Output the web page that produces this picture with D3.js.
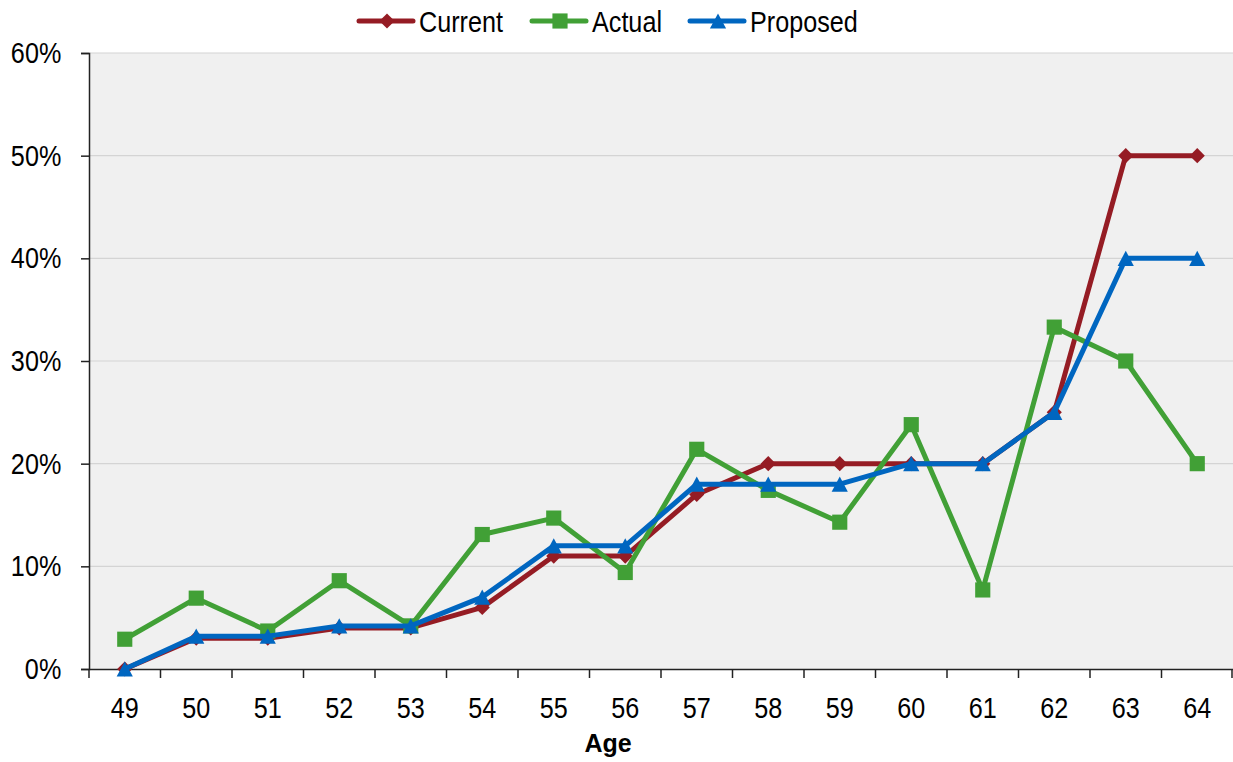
<!DOCTYPE html>
<html><head><meta charset="utf-8">
<script src="https://cdn.jsdelivr.net/npm/d3@7"></script>
<style>
body{margin:0;background:#fff;}
text{font-family:"Liberation Sans Narrow","Arial Narrow","Liberation Sans",Arial,sans-serif;fill:#000;}
</style></head>
<body><svg id="c" width="1233" height="762"></svg>
<script>
const ages = ["49","50","51","52","53","54","55","56","57","58","59","60","61","62","63","64"];
const current = [0,3,3,4,4,6,11,11,17,20,20,20,20,25,50,50];
const actual = [2.9,6.9,3.7,8.6,4.2,13.1,14.7,9.4,21.4,17.4,14.3,23.8,7.7,33.3,30,20];
const proposed = [0,3.2,3.2,4.2,4.2,7,12,12,18,18,18,20,20,25,40,40];
const yTicks = [0,10,20,30,40,50,60];
const seriesNames = ["Current","Actual","Proposed"];
const seriesColors = ["#951c24","#41a036","#0066c0"];

const SX = 0.84; // horizontal condensing to mimic a narrow font
const FS = 30;

const diamond = {draw(ctx,size){const r=Math.sqrt(size/2);ctx.moveTo(0,-r);ctx.lineTo(r,0);ctx.lineTo(0,r);ctx.lineTo(-r,0);ctx.closePath();}};
const triangle = {draw(ctx,size){const w=Math.sqrt(size*2.1)/2, h=w*0.94;ctx.moveTo(0,-h);ctx.lineTo(w,h);ctx.lineTo(-w,h);ctx.closePath();}};
const seriesSymbols = [diamond, d3.symbolSquare, triangle];
const seriesSizes = [115, 230, 125];

const svg = d3.select("#c");
const m = {l:89, r:1233, t:53, b:669};
const x = d3.scaleBand().domain(ages).range([m.l, m.r]);
const y = d3.scaleLinear().domain([0,60]).range([m.b, m.t]);

svg.append("rect").attr("x",m.l).attr("y",m.t).attr("width",m.r-m.l).attr("height",m.b-m.t).attr("fill","#f0f0f0");

svg.append("g").selectAll("line").data(yTicks.filter(d=>d>0)).join("line")
  .attr("x1",m.l).attr("x2",m.r).attr("y1",d=>y(d)).attr("y2",d=>y(d))
  .attr("stroke","#d4d4d4").attr("stroke-width",1.2);

// y axis
const ya = svg.append("g").attr("transform",`translate(${m.l},0)`)
  .call(d3.axisLeft(y).tickValues(yTicks).tickFormat(d=>d+"%").tickSize(8).tickPadding(25));
ya.select(".domain").attr("stroke","#222").attr("stroke-width",1.5);
ya.selectAll(".tick line").attr("stroke","#222").attr("stroke-width",1.5);
ya.selectAll("text").attr("font-size",FS).attr("fill","#000").attr("transform",`scale(${SX},1)`)
  .style("font-family",'"Liberation Sans Narrow","Arial Narrow","Liberation Sans",sans-serif');

// x axis
const xa = svg.append("g").attr("transform",`translate(0,${m.b})`)
  .call(d3.axisBottom(x).tickSize(0).tickPadding(28).tickSizeOuter(0));
xa.select(".domain").attr("stroke","#222").attr("stroke-width",1.5);
xa.selectAll("text").attr("font-size",FS).attr("fill","#000").attr("transform",`scale(${SX},1)`)
  .style("font-family",'"Liberation Sans Narrow","Arial Narrow","Liberation Sans",sans-serif');
const bounds = ages.map(a=>x(a)).concat([m.r-1]);
xa.append("g").selectAll("line").data(bounds).join("line")
  .attr("x1",d=>d).attr("x2",d=>d).attr("y1",0).attr("y2",9)
  .attr("stroke","#222").attr("stroke-width",1.5);

svg.append("text").attr("x",608).attr("y",752).attr("text-anchor","middle")
  .attr("font-size",25).attr("font-weight","bold").text("Age");

const data = [current, actual, proposed];
const cx = a => x(a) + x.bandwidth()/2;
const line = d3.line().x((d,i)=>cx(ages[i])).y(d=>y(d));
data.forEach((vals,k)=>{
  const g = svg.append("g");
  g.append("path").attr("d",line(vals)).attr("fill","none")
    .attr("stroke",seriesColors[k]).attr("stroke-width",5).attr("stroke-linejoin","round");
  g.selectAll("path.pt").data(vals).join("path").attr("class","pt")
    .attr("transform",(d,i)=>`translate(${cx(ages[i])},${y(d)})`)
    .attr("d",d3.symbol().type(seriesSymbols[k]).size(seriesSizes[k])).attr("fill",seriesColors[k]);
});

// legend
const legX = [359, 532, 690];
const lg = svg.append("g");
seriesNames.forEach((n,k)=>{
  const gx = legX[k];
  lg.append("line").attr("x1",gx).attr("x2",gx+54).attr("y1",21).attr("y2",21)
    .attr("stroke",seriesColors[k]).attr("stroke-width",5).attr("stroke-linecap","round");
  lg.append("path").attr("transform",`translate(${gx+28},21)`)
    .attr("d",d3.symbol().type(seriesSymbols[k]).size(seriesSizes[k])).attr("fill",seriesColors[k]);
  lg.append("text").attr("x",(gx+60)/SX).attr("y",32).attr("font-size",FS)
    .attr("transform",`scale(${SX},1)`).text(n);
});
</script></body></html>
